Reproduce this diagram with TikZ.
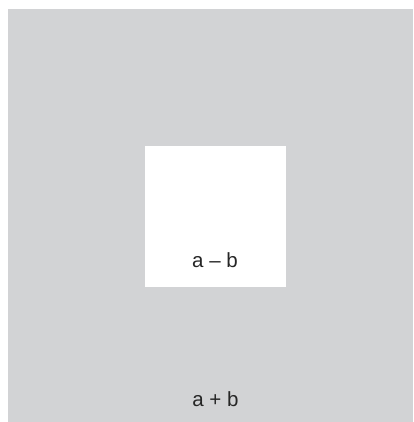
\documentclass[tikz,border=0pt]{standalone}
\usepackage{fontspec}
\newfontfamily\labelfont{Liberation Sans}
\definecolor{outergray}{RGB}{210,211,213}
\tikzset{
  sumlabel/.style={anchor=base, inner sep=0pt, font=\labelfont\fontsize{20.5}{24}\selectfont, text=black!85}
}
\begin{document}
\begin{tikzpicture}[x=1pt,y=-1pt]
\useasboundingbox (0,0) rectangle (413,422);
% outer square, side a+b
\fill[outergray] (8,9) rectangle (413,422);
% inner square, side a-b
\fill[white] (145,146) rectangle (286,287);

% side labels
\node[sumlabel] (diff) at (215,267) {a – b};
\node[sumlabel] (sum) at (215.5,406) {a + b};
\end{tikzpicture}
\end{document}
